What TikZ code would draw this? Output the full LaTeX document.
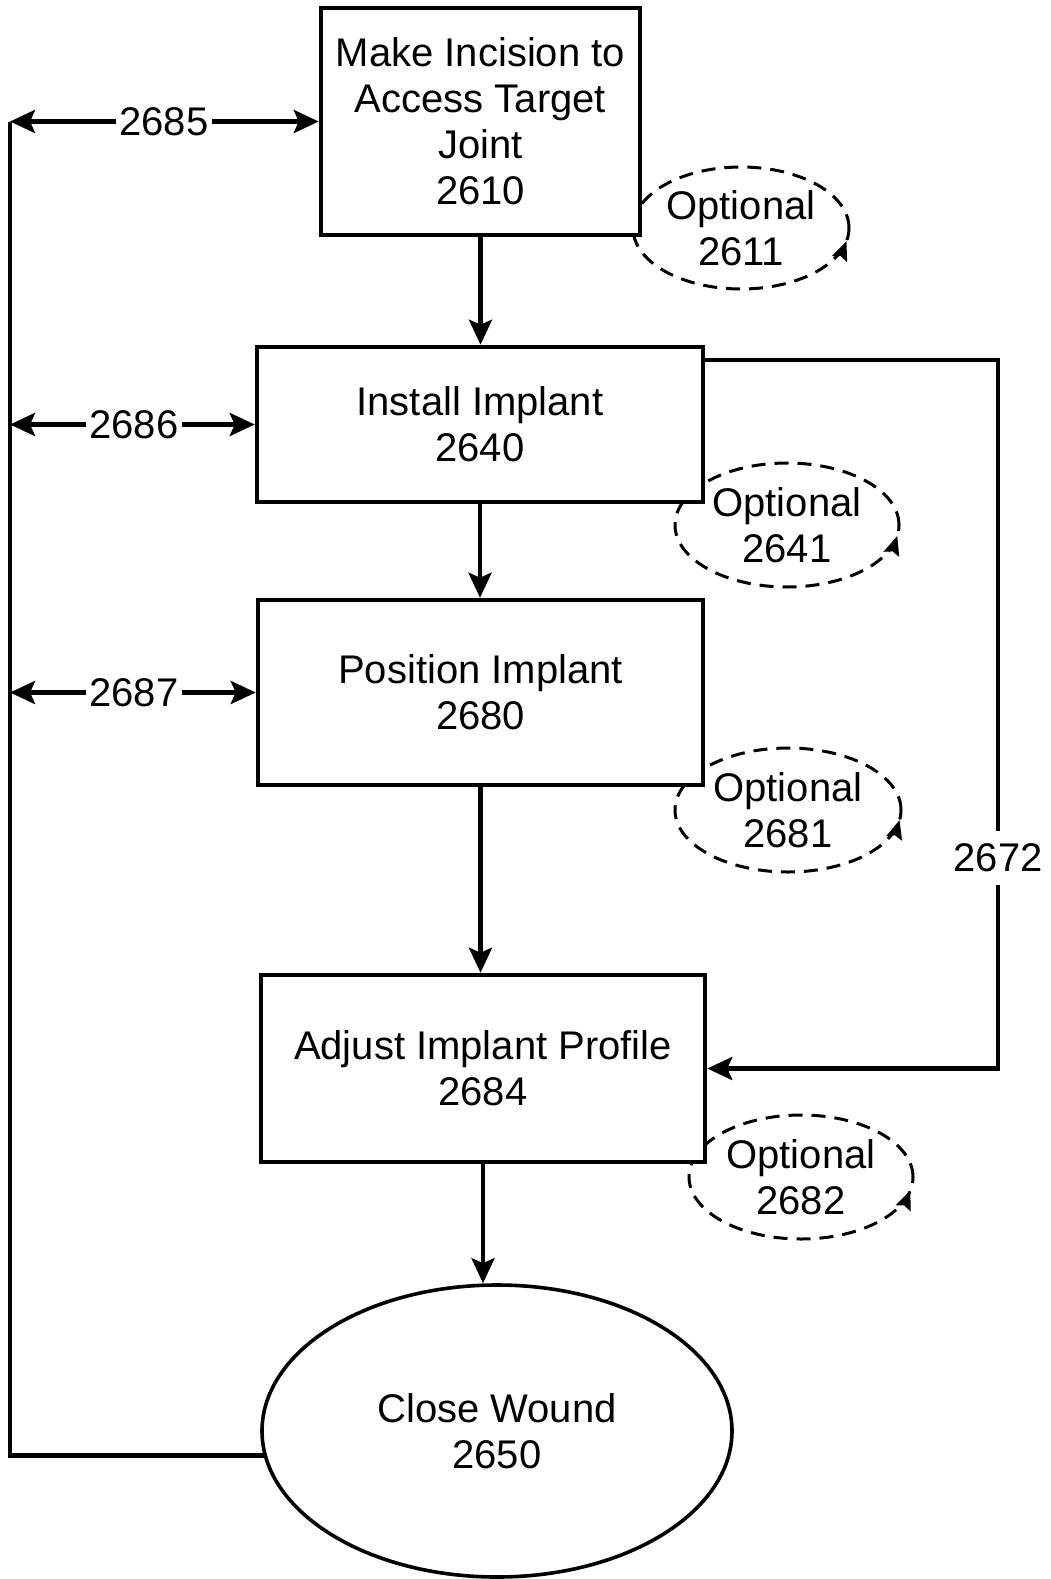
\documentclass[tikz,border=0pt]{standalone}
\usepackage{fontspec}
\setmainfont{Liberation Sans}
\usetikzlibrary{arrows.meta,shapes.geometric,decorations.markings}
\begin{document}
\begin{tikzpicture}[x=1pt,y=-1pt,
  txt/.style={font=\fontsize{40}{46}\selectfont},
  box/.style={txt, draw, line width=4.5pt, fill=white, rectangle, inner sep=0pt, align=center},
  endbox/.style={txt, draw, line width=3.6pt, ellipse, inner sep=0pt, align=center},
  opt/.style={txt, ellipse, draw, line width=3pt, dash pattern=on 14pt off 9pt, inner sep=0pt, align=center},
  optarrow/.style={postaction={decorate}, decoration={markings, mark=at position #1 with {\arrow{Stealth[length=19pt,width=16pt,inset=3pt]}}}},
  conn/.style={line width=4.5pt, -{Stealth[length=25pt,width=23pt,inset=5pt]}},
  dconn/.style={line width=4.5pt, {Stealth[length=25pt,width=23pt,inset=5pt]}-{Stealth[length=25pt,width=23pt,inset=5pt]}},
  plain/.style={line width=4.5pt},
  lbl/.style={txt, fill=white, inner xsep=4pt, inner ysep=13pt}]
\useasboundingbox (0,0) rectangle (1051,1579);

% optional loops
\node[opt, optarrow=0.975, minimum width=216pt, minimum height=122pt] (o1) at (741,228) {Optional\\2611};
\node[opt, optarrow=0.98, minimum width=224pt, minimum height=124pt] (o2) at (787,525) {Optional\\2641};
\node[opt, optarrow=0.982, minimum width=226pt, minimum height=124pt] (o3) at (788,810) {Optional\\2681};
\node[opt, optarrow=0.975, minimum width=224pt, minimum height=124pt] (o4) at (801,1177) {Optional\\2682};

% main steps
\node[box, minimum width=319pt, minimum height=227pt] (b1) at (480.5,121.5) {Make Incision to\\Access Target\\Joint\\2610};
\node[box, minimum width=446pt, minimum height=155pt] (b2) at (480,424.5) {Install Implant\\2640};
\node[box, minimum width=445pt, minimum height=185pt] (b3) at (480.5,692.5) {Position Implant\\2680};
\node[box, minimum width=444pt, minimum height=187pt] (b4) at (483,1068.5) {Adjust Implant Profile\\2684};
\node[endbox, minimum width=470pt, minimum height=292pt] (close) at (497,1431) {Close Wound\\2650};

% downward flow
\draw[conn] (b1.south) -- (b1.south |- b2.north);
\draw[conn] (b2.south) -- (b2.south |- b3.north);
\draw[conn] (b3.south) -- (b3.south |- b4.north);
\draw[conn] (b4.south) -- (b4.south |- close.north);

% left return loop
\coordinate (LT) at (10,121.5);
\draw[plain] (close.186) -| (LT);
\draw[dconn] (LT) -- (b1.west);
\draw[dconn] (b2.west -| LT) -- (b2.west);
\draw[dconn] (b3.west -| LT) -- (b3.west);
\node[lbl] (l2685) at (164,121.5) {2685};
\node[lbl] (l2686) at (134,424.5) {2686};
\node[lbl] (l2687) at (134,692.5) {2687};

% right bypass
\coordinate (RT) at (998,360);
\draw[conn] (b2.east |- RT) -- (RT) |- (b4.east);
\node[lbl] (l2672) at (998,858) {2672};
\end{tikzpicture}
\end{document}
